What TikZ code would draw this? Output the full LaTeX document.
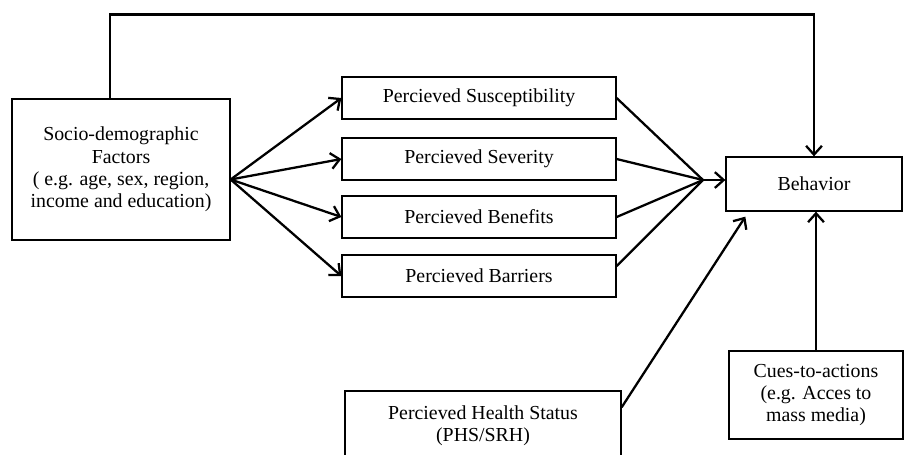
\documentclass[tikz,border=0pt]{standalone}
\usepackage{fontspec}
\setmainfont{Liberation Serif}
\usetikzlibrary{arrows.meta}
\begin{document}
\begin{tikzpicture}[x=0.02cm,y=-0.02cm,
		box/.style={draw,line width=0.75pt,align=center,inner sep=2pt,font=\fontsize{11.3}{12.7}\selectfont},
		mid/.style={box,minimum width=5.48cm,minimum height=0.84cm},
		ln/.style={line width=1.3pt},
		arr/.style={ln,-{Straight Barb[length=5pt,width=9pt]}}]
			\useasboundingbox (0,0) rectangle (904,454);

			\node[box,minimum width=4.36cm,minimum height=2.82cm] (soc) at (121,169.5)
				{Socio-demographic\\Factors\\( e.g. age, sex, region,\\income and education)};

			\node[mid] (sus) at (479, 98) {Percieved Susceptibility};
			\node[mid] (sev) at (479,159) {Percieved Severity};
			\node[mid] (ben) at (479,217) {Percieved Benefits};
			\node[mid] (bar) at (479,276) {Percieved Barriers};

			\node[box,minimum width=3.52cm,minimum height=1.08cm] (beh) at (814,184) {Behavior};
			\node[box,minimum width=3.48cm,minimum height=1.76cm] (cue) at (816,395)
				{Cues-to-actions\\(e.g. Acces to\\mass media)};
			\node[box,minimum width=5.52cm,minimum height=1.4cm] (hlt) at (483,426)
				{Percieved Health Status\\(PHS/SRH)};

			\coordinate (src) at ([yshift=-0.2cm]soc.east);
			\coordinate (mrg) at (703,180);

			\draw[arr] ([xshift=-0.22cm]soc.north) -- ++(0,-84) -| (beh.north);

			\draw[arr] (src) -- (sus.west);
			\draw[arr] (src) -- (sev.west);
			\draw[arr] (src) -- (ben.west);
			\draw[arr] (src) -- (bar.west);

			\draw[ln] (sus.east) -- (mrg);
			\draw[ln] (sev.east) -- (mrg);
			\draw[ln] (ben.east) -- (mrg);
			\draw[ln] ([yshift=0.2cm]bar.east) -- (mrg);
			\draw[arr] (mrg) -- (beh.west |- mrg);

			\draw[arr] ([yshift=-0.34cm]hlt.north east) -- ([xshift=0.4cm,yshift=-0.1cm]beh.south west);
			\draw[arr] (cue.north) -- (cue.north |- beh.south);
		\end{tikzpicture}
\end{document}
